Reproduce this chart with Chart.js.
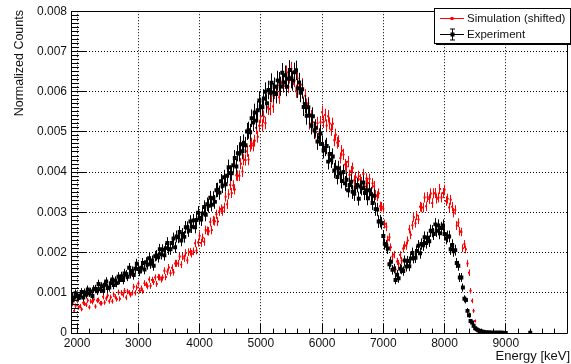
<!DOCTYPE html>
<html><head><meta charset="utf-8">
<script src="https://cdn.jsdelivr.net/npm/chart.js@4/dist/chart.umd.min.js"></script>
<style>html,body{margin:0;padding:0;background:#fff}#wrap{width:571px;height:364px;position:relative}canvas{display:block}</style>
</head><body>
<div id="wrap"><canvas id="c" width="571" height="364"></canvas></div>
<script>
// ---- data ----
// histogram bins: 25 keV wide, first bin centre 1900 keV, last 9000 keV, plus one isolated bin at 9400 keV
const binFirst = 1900, binLast = 9000, binWidth = 25;
const extraEnergies = [9400];
// values in units of 1e-5 normalized counts
const valueUnit = 1e-5;
const experiment = [
 95,81,88,99,92,87,93,102,88,101,95,108,99,103,92,109,110,104,122,109,
 116,105,120,128,112,113,124,133,119,130,124,140,132,141,132,148,145,140,162,147,
 154,144,160,172,159,153,162,174,158,176,170,186,172,180,167,191,193,188,208,196,
 207,193,211,224,208,208,224,235,213,240,238,251,230,246,239,263,262,254,277,264,
 280,263,281,299,286,282,297,313,294,320,316,336,319,335,326,355,356,349,377,366,
 387,370,391,412,398,397,417,435,414,447,446,469,452,473,467,501,504,499,534,523,
 548,528,554,578,563,561,583,600,571,604,597,622,598,612,594,628,625,613,647,623,
 641,612,632,654,632,627,648,653,608,623,597,606,562,569,540,561,541,515,539,504,
 510,476,486,496,470,454,460,465,426,445,430,439,404,411,388,409,397,378,400,372,
 381,355,368,376,351,346,362,368,334,364,360,374,348,355,335,355,345,323,341,308,
 307,277,278,273,241,221,217,210,171,177,157,160,132,145,136,160,158,154,180,165,
 179,166,185,199,186,187,204,217,198,221,218,238,224,237,228,254,253,246,270,254,
 267,248,261,267,246,235,240,240,208,219,203,206,174,167,138,138,113,85,82,55,
 44,30,26,18,12,9,7,5,3.5,3,2,1.5,1,1.2,0.8,0.8,0.6,0.5,0.5,0.4,
 0.5,0.4,0.4,0.3,0.3,
 0.4
];
const simulation = [
 65,72,55,68,80,63,67,59,75,73,70,81,64,79,77,83,66,81,82,74,
 74,90,76,86,93,79,89,79,96,90,84,101,85,100,95,105,88,103,100,95,
 100,115,100,113,123,105,111,104,124,120,116,133,117,132,127,138,122,139,138,133,
 138,155,139,152,163,149,162,151,173,173,173,190,170,190,186,199,181,201,202,197,
 203,223,205,225,242,224,237,227,256,254,253,276,256,280,278,295,277,303,308,303,
 312,339,320,345,368,348,367,357,392,391,391,421,401,431,430,452,431,465,471,466,
 478,510,488,515,539,516,538,522,562,558,557,590,563,598,595,616,586,621,624,614,
 625,648,613,637,657,619,628,601,633,613,597,617,572,590,567,571,521,539,524,499,
 499,522,495,524,549,525,542,516,539,521,505,520,479,493,473,477,435,453,444,419,
 414,426,393,402,410,379,387,366,390,382,375,395,364,384,373,383,351,372,365,343,
 340,347,315,314,309,271,264,232,238,213,190,195,158,178,173,194,180,210,218,217,
 230,258,244,268,288,273,292,282,314,312,312,337,315,338,333,347,323,347,348,334,
 337,358,337,348,356,328,334,312,331,314,299,306,267,274,253,251,211,221,208,173,
 150,105,80,55,30,12,5,3,1.5,1,null,null,null,null,null,null,null,null,null,null,
 null,null,null,null,null,
 null
];
// Poisson-like statistical scale (normalised counts -> 1/N)
const expErrScale = 9.0e-6;
const simErrScale = 4.5e-6;

const xTicks = [2000,3000,4000,5000,6000,7000,8000,9000];
const xTickLabels = ['2000','3000','4000','5000','6000','7000','8000','9000'];
const yTicks = [0,0.001,0.002,0.003,0.004,0.005,0.006,0.007,0.008];
const yTickLabels = ['0','0.001','0.002','0.003','0.004','0.005','0.006','0.007','0.008'];
const xMinorStep = 200, yMinorStep = 0.0001;
const xTitle = 'Energy [keV]';
const yTitle = 'Normalized Counts';
const legendLabels = ['Simulation (shifted)', 'Experiment'];

const FONT = "'Liberation Sans', Arial, Helvetica, sans-serif";

const energies = [];
for (let e = binFirst; e <= binLast; e += binWidth) energies.push(e);
extraEnergies.forEach(e => energies.push(e));

function pts(vals){ return energies.map((e,i)=>({x:e, y: vals[i]==null ? null : vals[i]*valueUnit})); }
function errs(vals, k){ return vals.map(v => v==null ? null : Math.sqrt(v*valueUnit*k)); }

const al = p => Math.round(p - 0.5) + 0.5;

const errorBars = {
  id:'errorBars',
  beforeDatasetDraw(chart, args){
    const ds = chart.data.datasets[args.index];
    const xs = chart.scales.x, ys = chart.scales.y, ctx = chart.ctx, ca = chart.chartArea;
    ctx.save();
    ctx.beginPath(); ctx.rect(ca.left, ca.top, ca.right-ca.left, ca.bottom-ca.top); ctx.clip();
    ctx.strokeStyle = ds.errColor; ctx.lineWidth = 1;
    ctx.beginPath();
    ds.data.forEach((p,i)=>{
      if (p.y == null) return;
      const e = ds.errs[i];
      const px = al(xs.getPixelForValue(p.x)), py = al(ys.getPixelForValue(p.y));
      const t = ys.getPixelForValue(p.y + e), b = ys.getPixelForValue(Math.max(0, p.y - e));
      ctx.moveTo(px, t); ctx.lineTo(px, b);
      ctx.moveTo(xs.getPixelForValue(p.x - binWidth/2), py);
      ctx.lineTo(xs.getPixelForValue(p.x + binWidth/2), py);
    });
    ctx.stroke();
    ctx.restore();
  }
};

const frameAndDecor = {
  id:'frameAndDecor',
  afterDatasetsDraw(chart){
    const ctx = chart.ctx, ca = chart.chartArea, xs = chart.scales.x, ys = chart.scales.y;
    ctx.save();
    ctx.strokeStyle = '#000'; ctx.lineWidth = 1;
    ctx.beginPath();
    const L = al(ca.left), R = al(ca.right), T = al(ca.top), B = al(ca.bottom);
    ctx.moveTo(L,T); ctx.lineTo(R,T); ctx.lineTo(R,B); ctx.lineTo(L,B); ctx.closePath();
    const yMajorLen = 15, yMinorLen = 7.5;
    for (let k = 0; k < yTicks.length; k++){
      const py = al(ys.getPixelForValue(yTicks[k]));
      ctx.moveTo(L, py); ctx.lineTo(L + yMajorLen, py);
      if (k < yTicks.length - 1){
        for (let m = 1; m < 10; m++){
          const q = al(ys.getPixelForValue(yTicks[k] + m*yMinorStep));
          ctx.moveTo(L, q); ctx.lineTo(L + yMinorLen, q);
        }
      }
    }
    const xMajorLen = 9.7, xMinorLen = 4.9;
    for (let k = 0; k < xTicks.length; k++){
      const px = al(xs.getPixelForValue(xTicks[k]));
      ctx.moveTo(px, B); ctx.lineTo(px, B - xMajorLen);
      for (let m = 1; m < 5; m++){
        const v = xTicks[k] + m*xMinorStep;
        if (v >= xs.max) break;
        const q = al(xs.getPixelForValue(v));
        ctx.moveTo(q, B); ctx.lineTo(q, B - xMinorLen);
      }
    }
    ctx.stroke();
    ctx.restore();
  },
  afterDraw(chart){
    const ctx = chart.ctx;
    ctx.save();
    ctx.fillStyle = '#111';
    ctx.font = "13px " + FONT;
    ctx.textAlign = 'right'; ctx.textBaseline = 'alphabetic';
    ctx.fillText(xTitle, 570, 360);
    ctx.save();
    ctx.translate(23, 10);
    ctx.rotate(-Math.PI/2);
    ctx.font = "12.5px " + FONT;
    ctx.textAlign = 'right'; ctx.textBaseline = 'alphabetic';
    ctx.fillText(yTitle, 0, 0);
    ctx.restore();
    // legend
    const lx = 434, ly = 8, lw = 136, lh = 35;
    ctx.fillStyle = '#fff';
    ctx.fillRect(lx, ly, lw, lh);
    ctx.strokeStyle = '#000'; ctx.lineWidth = 1;
    ctx.strokeRect(lx+0.5, ly+0.5, lw, lh);
    ctx.beginPath();
    ctx.moveTo(lx+2, ly+lh+1.5); ctx.lineTo(lx+lw+1.5, ly+lh+1.5); ctx.lineTo(lx+lw+1.5, ly+2);
    ctx.stroke();
    const y1 = 18.5, y2 = 34.5, x0 = 440, x1 = 464, xm = 452;
    ctx.strokeStyle = '#ff0000';
    ctx.beginPath(); ctx.moveTo(x0, y1); ctx.lineTo(x1, y1); ctx.stroke();
    ctx.fillStyle = '#ff0000'; ctx.fillRect(xm-1.5, y1-1.5, 3, 3);
    ctx.strokeStyle = '#000';
    ctx.beginPath();
    ctx.moveTo(x0, y2); ctx.lineTo(x1, y2);
    ctx.moveTo(xm+0.5, y2-5.5); ctx.lineTo(xm+0.5, y2+5.5);
    ctx.moveTo(xm-2, y2-5.5); ctx.lineTo(xm+3, y2-5.5);
    ctx.moveTo(xm-2, y2+5.5); ctx.lineTo(xm+3, y2+5.5);
    ctx.stroke();
    ctx.fillStyle = '#000'; ctx.fillRect(xm-1.5, y2-2, 4, 4);
    ctx.fillStyle = '#111';
    ctx.font = "11.5px " + FONT;
    ctx.textAlign = 'left'; ctx.textBaseline = 'middle';
    ctx.fillText(legendLabels[0], 467, y1);
    ctx.fillText(legendLabels[1], 467, y2);
    ctx.restore();
  }
};

new Chart(document.getElementById('c'), {
  type:'scatter',
  data:{ datasets:[
    { label: legendLabels[1], data: pts(experiment), errs: errs(experiment, expErrScale), errColor:'#000',
      pointStyle:'rect', pointRadius:2.8, backgroundColor:'#000', borderWidth:0, showLine:false, order:0 },
    { label: legendLabels[0], data: pts(simulation), errs: errs(simulation, simErrScale), errColor:'#ff0000',
      pointStyle:'rect', pointRadius:1.4, backgroundColor:'#ff0000', borderWidth:0, showLine:false, order:1 }
  ]},
  options:{
    responsive:false, animation:false, devicePixelRatio:1,
    layout:{ padding:{ top:10, right:1, left:0, bottom:0 } },
    plugins:{ legend:{display:false}, tooltip:{enabled:false} },
    scales:{
      x:{ type:'linear', min:1900, max:10000,
          afterBuildTicks: a => { a.ticks = xTicks.map(v=>({value:v})); },
          afterFit: a => { a.height = 31; },
          grid:{ color:'#000', lineWidth:1, drawTicks:false },
          border:{ display:false, dash:[1,2] },
          ticks:{ autoSkip:false, maxRotation:0, padding:3, color:'#111',
                  font:{ family:FONT, size:12 },
                  callback:(v,i)=> xTickLabels[i] }
      },
      y:{ type:'linear', min:0, max:0.008,
          afterBuildTicks: a => { a.ticks = yTicks.map(v=>({value:v})); },
          afterFit: a => { a.width = 71; },
          grid:{ color:'#000', lineWidth:1, drawTicks:false },
          border:{ display:false, dash:[1,2] },
          ticks:{ padding:4, color:'#111', font:{ family:FONT, size:12 },
                  callback:(v,i)=> yTickLabels[i] }
      }
    }
  },
  plugins:[errorBars, frameAndDecor]
});
</script>
</body></html>
